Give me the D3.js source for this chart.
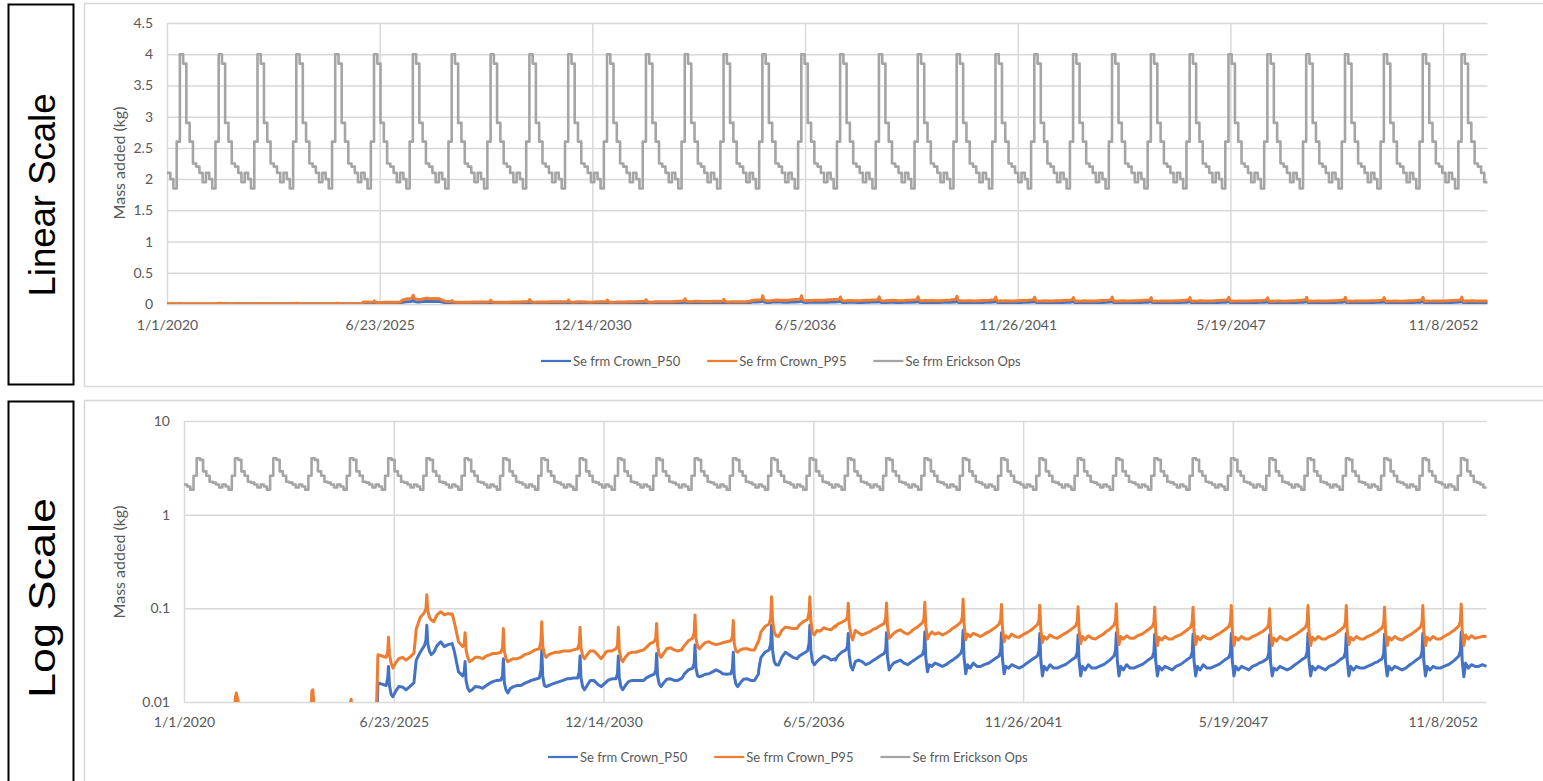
<!DOCTYPE html>
<html>
<head>
<meta charset="utf-8">
<script src="https://cdn.jsdelivr.net/npm/d3@7"></script>
<style>
  body { margin: 0; background: #fff; }
  svg { display: block; }
</style>
</head>
<body>
<svg id="chart" width="1543" height="781"></svg>
<script>
// ---- data ----
const seriesNames = ["Se frm Crown_P50", "Se frm Crown_P95", "Se frm Erickson Ops"];
const seriesColors = ["#4472C4", "#ED7D31", "#A5A5A5"];

const tickDates = ["2020-01-01", "2025-06-23", "2030-12-14", "2036-06-05", "2041-11-26", "2047-05-19", "2052-11-08"];
const linearTicks = [0, 0.5, 1, 1.5, 2, 2.5, 3, 3.5, 4, 4.5];
const logTicks = [0.01, 0.1, 1, 10];

const years = [2020, 2021, 2022, 2023, 2024, 2025, 2026, 2027, 2028, 2029, 2030, 2031,
  2032, 2033, 2034, 2035, 2036, 2037, 2038, 2039, 2040, 2041, 2042, 2043, 2044, 2045,
  2046, 2047, 2048, 2049, 2050, 2051, 2052, 2053];

// Erickson Ops: one value per month (Jan..Dec), each row one year
const opsMonthly = [
  [2.1, 2.0, 1.85, 2.6, 4.0, 3.85, 2.9, 2.6, 2.25, 2.2, 2.1, 1.95], // 2020
  [2.1, 2.0, 1.85, 2.6, 4.0, 3.85, 2.9, 2.6, 2.25, 2.2, 2.1, 1.95],
  [2.1, 2.0, 1.85, 2.6, 4.0, 3.85, 2.9, 2.6, 2.25, 2.2, 2.1, 1.95],
  [2.1, 2.0, 1.85, 2.6, 4.0, 3.85, 2.9, 2.6, 2.25, 2.2, 2.1, 1.95],
  [2.1, 2.0, 1.85, 2.6, 4.0, 3.85, 2.9, 2.6, 2.25, 2.2, 2.1, 1.95],
  [2.1, 2.0, 1.85, 2.6, 4.0, 3.85, 2.9, 2.6, 2.25, 2.2, 2.1, 1.95], // 2025
  [2.1, 2.0, 1.85, 2.6, 4.0, 3.85, 2.9, 2.6, 2.25, 2.2, 2.1, 1.95],
  [2.1, 2.0, 1.85, 2.6, 4.0, 3.85, 2.9, 2.6, 2.25, 2.2, 2.1, 1.95],
  [2.1, 2.0, 1.85, 2.6, 4.0, 3.85, 2.9, 2.6, 2.25, 2.2, 2.1, 1.95],
  [2.1, 2.0, 1.85, 2.6, 4.0, 3.85, 2.9, 2.6, 2.25, 2.2, 2.1, 1.95],
  [2.1, 2.0, 1.85, 2.6, 4.0, 3.85, 2.9, 2.6, 2.25, 2.2, 2.1, 1.95], // 2030
  [2.1, 2.0, 1.85, 2.6, 4.0, 3.85, 2.9, 2.6, 2.25, 2.2, 2.1, 1.95],
  [2.1, 2.0, 1.85, 2.6, 4.0, 3.85, 2.9, 2.6, 2.25, 2.2, 2.1, 1.95],
  [2.1, 2.0, 1.85, 2.6, 4.0, 3.85, 2.9, 2.6, 2.25, 2.2, 2.1, 1.95],
  [2.1, 2.0, 1.85, 2.6, 4.0, 3.85, 2.9, 2.6, 2.25, 2.2, 2.1, 1.95],
  [2.1, 2.0, 1.85, 2.6, 4.0, 3.85, 2.9, 2.6, 2.25, 2.2, 2.1, 1.95], // 2035
  [2.1, 2.0, 1.85, 2.6, 4.0, 3.85, 2.9, 2.6, 2.25, 2.2, 2.1, 1.95],
  [2.1, 2.0, 1.85, 2.6, 4.0, 3.85, 2.9, 2.6, 2.25, 2.2, 2.1, 1.95],
  [2.1, 2.0, 1.85, 2.6, 4.0, 3.85, 2.9, 2.6, 2.25, 2.2, 2.1, 1.95],
  [2.1, 2.0, 1.85, 2.6, 4.0, 3.85, 2.9, 2.6, 2.25, 2.2, 2.1, 1.95],
  [2.1, 2.0, 1.85, 2.6, 4.0, 3.85, 2.9, 2.6, 2.25, 2.2, 2.1, 1.95], // 2040
  [2.1, 2.0, 1.85, 2.6, 4.0, 3.85, 2.9, 2.6, 2.25, 2.2, 2.1, 1.95],
  [2.1, 2.0, 1.85, 2.6, 4.0, 3.85, 2.9, 2.6, 2.25, 2.2, 2.1, 1.95],
  [2.1, 2.0, 1.85, 2.6, 4.0, 3.85, 2.9, 2.6, 2.25, 2.2, 2.1, 1.95],
  [2.1, 2.0, 1.85, 2.6, 4.0, 3.85, 2.9, 2.6, 2.25, 2.2, 2.1, 1.95],
  [2.1, 2.0, 1.85, 2.6, 4.0, 3.85, 2.9, 2.6, 2.25, 2.2, 2.1, 1.95], // 2045
  [2.1, 2.0, 1.85, 2.6, 4.0, 3.85, 2.9, 2.6, 2.25, 2.2, 2.1, 1.95],
  [2.1, 2.0, 1.85, 2.6, 4.0, 3.85, 2.9, 2.6, 2.25, 2.2, 2.1, 1.95],
  [2.1, 2.0, 1.85, 2.6, 4.0, 3.85, 2.9, 2.6, 2.25, 2.2, 2.1, 1.95],
  [2.1, 2.0, 1.85, 2.6, 4.0, 3.85, 2.9, 2.6, 2.25, 2.2, 2.1, 1.95],
  [2.1, 2.0, 1.85, 2.6, 4.0, 3.85, 2.9, 2.6, 2.25, 2.2, 2.1, 1.95], // 2050
  [2.1, 2.0, 1.85, 2.6, 4.0, 3.85, 2.9, 2.6, 2.25, 2.2, 2.1, 1.95],
  [2.1, 2.0, 1.85, 2.6, 4.0, 3.85, 2.9, 2.6, 2.25, 2.2, 2.1, 1.95],
  [2.1, 2.0, 1.85, 2.6, 4.0, 3.85, 2.9, 2.6, 2.25, 2.2, 2.1, 1.95]  // 2053
];

// Crown series: values at these days of each year
const sampleDays = [0, 22, 60, 100, 115, 123, 132, 148, 165, 190, 220, 255, 290, 325, 364];

const p50Rows = [
  [0.0015, 0.0015, 0.002, 0.002, 0.0025, 0.003, 0.0025, 0.002, 0.002, 0.0015, 0.002, 0.002, 0.0015, 0.002, 0.002], // 2020
  [0.002, 0.002, 0.002, 0.0025, 0.0035, 0.0055, 0.006, 0.005, 0.003, 0.0025, 0.002, 0.002, 0.0025, 0.0025, 0.0025],
  [0.0025, 0.0025, 0.0025, 0.003, 0.0035, 0.004, 0.0035, 0.003, 0.0025, 0.002, 0.002, 0.0025, 0.0025, 0.0025, 0.0025],
  [0.0025, 0.0025, 0.0025, 0.003, 0.004, 0.0065, 0.0065, 0.004, 0.003, 0.0025, 0.0025, 0.0025, 0.0025, 0.0025, 0.0025],
  [0.0025, 0.0025, 0.0025, 0.003, 0.0035, 0.0045, 0.005, 0.0035, 0.0025, 0.0025, 0.0025, 0.0025, 0.0025, 0.0025, 0.002],
  [0.002, 0.016, 0.0155, 0.015, 0.018, 0.024, 0.015, 0.012, 0.0114, 0.013, 0.0146, 0.0145, 0.0135, 0.0146, 0.016], // 2025
  [0.016, 0.028, 0.034, 0.040, 0.046, 0.066, 0.042, 0.035, 0.032, 0.034, 0.040, 0.044, 0.039, 0.041, 0.042],
  [0.042, 0.034, 0.021, 0.019, 0.021, 0.027, 0.017, 0.014, 0.013, 0.0135, 0.0146, 0.0145, 0.014, 0.015, 0.016],
  [0.016, 0.0165, 0.017, 0.0172, 0.019, 0.029, 0.016, 0.0135, 0.0125, 0.014, 0.0146, 0.015, 0.015, 0.0158, 0.0165],
  [0.0165, 0.017, 0.0175, 0.018, 0.022, 0.036, 0.019, 0.015, 0.0146, 0.015, 0.0155, 0.016, 0.0165, 0.017, 0.0177],
  [0.0177, 0.0177, 0.018, 0.018, 0.021, 0.031, 0.018, 0.0145, 0.0135, 0.015, 0.017, 0.017, 0.0155, 0.0146, 0.016], // 2030
  [0.016, 0.017, 0.0177, 0.0177, 0.020, 0.031, 0.018, 0.0145, 0.0135, 0.015, 0.0165, 0.017, 0.017, 0.017, 0.017],
  [0.017, 0.018, 0.019, 0.0198, 0.022, 0.033, 0.019, 0.0155, 0.0146, 0.016, 0.0175, 0.0177, 0.017, 0.017, 0.018],
  [0.018, 0.020, 0.022, 0.023, 0.026, 0.0406, 0.023, 0.019, 0.0186, 0.019, 0.0198, 0.020, 0.021, 0.022, 0.021],
  [0.021, 0.020, 0.0198, 0.020, 0.023, 0.034, 0.019, 0.0155, 0.0146, 0.016, 0.0175, 0.0177, 0.017, 0.017, 0.020],
  [0.022, 0.030, 0.034, 0.036, 0.042, 0.066, 0.036, 0.027, 0.025, 0.0248, 0.030, 0.034, 0.032, 0.030, 0.029], // 2035
  [0.029, 0.031, 0.033, 0.035, 0.042, 0.066, 0.036, 0.027, 0.025, 0.027, 0.029, 0.031, 0.030, 0.028, 0.029],
  [0.028, 0.031, 0.034, 0.036, 0.039, 0.054, 0.032, 0.024, 0.022, 0.027, 0.028, 0.027, 0.025, 0.026, 0.028],
  [0.028, 0.029, 0.031, 0.033, 0.036, 0.055, 0.030, 0.022, 0.024, 0.026, 0.027, 0.028, 0.026, 0.025, 0.027],
  [0.027, 0.028, 0.030, 0.032, 0.036, 0.056, 0.030, 0.021, 0.025, 0.024, 0.026, 0.025, 0.024, 0.025, 0.027],
  [0.027, 0.028, 0.030, 0.033, 0.037, 0.058, 0.030, 0.020, 0.025, 0.023, 0.026, 0.024, 0.024, 0.025, 0.026], // 2040
  [0.026, 0.027, 0.029, 0.031, 0.035, 0.055, 0.029, 0.020, 0.024, 0.023, 0.025, 0.024, 0.023, 0.024, 0.026],
  [0.026, 0.027, 0.029, 0.031, 0.035, 0.054, 0.029, 0.019, 0.024, 0.022, 0.025, 0.023, 0.023, 0.024, 0.025],
  [0.025, 0.026, 0.028, 0.030, 0.034, 0.052, 0.028, 0.019, 0.024, 0.022, 0.025, 0.023, 0.023, 0.024, 0.025],
  [0.025, 0.026, 0.028, 0.031, 0.035, 0.055, 0.028, 0.019, 0.024, 0.022, 0.025, 0.023, 0.023, 0.024, 0.025],
  [0.025, 0.026, 0.028, 0.030, 0.034, 0.053, 0.028, 0.019, 0.024, 0.022, 0.024, 0.023, 0.022, 0.024, 0.025], // 2045
  [0.025, 0.026, 0.028, 0.030, 0.034, 0.053, 0.028, 0.019, 0.024, 0.022, 0.025, 0.023, 0.023, 0.024, 0.025],
  [0.025, 0.026, 0.028, 0.030, 0.034, 0.054, 0.028, 0.019, 0.024, 0.022, 0.024, 0.023, 0.022, 0.024, 0.025],
  [0.025, 0.026, 0.027, 0.029, 0.033, 0.052, 0.027, 0.019, 0.023, 0.022, 0.024, 0.023, 0.022, 0.023, 0.025],
  [0.025, 0.026, 0.028, 0.030, 0.034, 0.054, 0.028, 0.019, 0.024, 0.022, 0.024, 0.023, 0.022, 0.024, 0.025],
  [0.025, 0.026, 0.028, 0.030, 0.034, 0.054, 0.028, 0.019, 0.024, 0.022, 0.024, 0.023, 0.023, 0.024, 0.025], // 2050
  [0.025, 0.026, 0.027, 0.029, 0.033, 0.053, 0.027, 0.019, 0.024, 0.022, 0.024, 0.023, 0.022, 0.023, 0.025],
  [0.025, 0.026, 0.028, 0.030, 0.034, 0.054, 0.028, 0.019, 0.024, 0.022, 0.024, 0.023, 0.023, 0.024, 0.025],
  [0.025, 0.026, 0.028, 0.031, 0.035, 0.056, 0.028, 0.0186, 0.026, 0.023, 0.025, 0.024, 0.024, 0.025, 0.024]  // 2053
];

const p95Rows = [
  [0.003, 0.003, 0.004, 0.004, 0.005, 0.006, 0.005, 0.004, 0.004, 0.003, 0.004, 0.004, 0.003, 0.004, 0.004], // 2020
  [0.004, 0.004, 0.004, 0.005, 0.007, 0.011, 0.0125, 0.0105, 0.006, 0.005, 0.004, 0.004, 0.005, 0.005, 0.005],
  [0.005, 0.005, 0.005, 0.006, 0.007, 0.008, 0.007, 0.006, 0.005, 0.004, 0.004, 0.005, 0.005, 0.005, 0.005],
  [0.005, 0.005, 0.005, 0.006, 0.008, 0.013, 0.0135, 0.008, 0.006, 0.005, 0.005, 0.005, 0.005, 0.005, 0.005],
  [0.005, 0.005, 0.005, 0.006, 0.007, 0.0095, 0.0107, 0.007, 0.005, 0.005, 0.005, 0.005, 0.005, 0.005, 0.004],
  [0.004, 0.032, 0.031, 0.030, 0.034, 0.049, 0.032, 0.026, 0.023, 0.026, 0.029, 0.030, 0.028, 0.030, 0.033], // 2025
  [0.033, 0.060, 0.080, 0.090, 0.100, 0.140, 0.095, 0.080, 0.075, 0.072, 0.085, 0.092, 0.085, 0.088, 0.086],
  [0.087, 0.070, 0.044, 0.039, 0.042, 0.055, 0.036, 0.030, 0.027, 0.028, 0.030, 0.030, 0.029, 0.031, 0.032],
  [0.032, 0.033, 0.033, 0.034, 0.038, 0.061, 0.035, 0.029, 0.027, 0.028, 0.029, 0.029, 0.030, 0.032, 0.033],
  [0.033, 0.034, 0.036, 0.037, 0.045, 0.072, 0.040, 0.032, 0.030, 0.032, 0.033, 0.034, 0.034, 0.035, 0.035],
  [0.035, 0.035, 0.036, 0.037, 0.042, 0.063, 0.038, 0.031, 0.029, 0.032, 0.035, 0.035, 0.032, 0.029, 0.033], // 2030
  [0.034, 0.035, 0.035, 0.037, 0.040, 0.063, 0.036, 0.029, 0.027, 0.030, 0.033, 0.034, 0.034, 0.035, 0.036],
  [0.036, 0.038, 0.042, 0.044, 0.048, 0.069, 0.040, 0.032, 0.030, 0.033, 0.037, 0.038, 0.036, 0.035, 0.036],
  [0.037, 0.040, 0.045, 0.048, 0.055, 0.085, 0.048, 0.039, 0.037, 0.040, 0.043, 0.044, 0.042, 0.041, 0.042],
  [0.042, 0.043, 0.044, 0.045, 0.050, 0.074, 0.042, 0.035, 0.034, 0.036, 0.037, 0.037, 0.036, 0.036, 0.045],
  [0.045, 0.056, 0.064, 0.068, 0.080, 0.133, 0.075, 0.056, 0.051, 0.050, 0.058, 0.063, 0.062, 0.061, 0.061], // 2035
  [0.061, 0.066, 0.072, 0.076, 0.090, 0.133, 0.075, 0.054, 0.052, 0.058, 0.057, 0.062, 0.060, 0.059, 0.065],
  [0.063, 0.068, 0.071, 0.075, 0.080, 0.113, 0.068, 0.052, 0.046, 0.058, 0.055, 0.052, 0.054, 0.056, 0.060],
  [0.060, 0.061, 0.065, 0.069, 0.078, 0.114, 0.065, 0.048, 0.050, 0.054, 0.057, 0.059, 0.055, 0.053, 0.057],
  [0.058, 0.060, 0.064, 0.070, 0.078, 0.116, 0.066, 0.047, 0.052, 0.056, 0.053, 0.055, 0.052, 0.054, 0.058],
  [0.058, 0.061, 0.065, 0.071, 0.080, 0.125, 0.068, 0.046, 0.053, 0.050, 0.054, 0.052, 0.050, 0.053, 0.056], // 2040
  [0.056, 0.058, 0.062, 0.068, 0.076, 0.110, 0.062, 0.044, 0.051, 0.048, 0.053, 0.050, 0.049, 0.052, 0.055],
  [0.055, 0.057, 0.061, 0.067, 0.074, 0.108, 0.061, 0.043, 0.050, 0.047, 0.052, 0.049, 0.048, 0.051, 0.054],
  [0.054, 0.056, 0.060, 0.065, 0.072, 0.104, 0.060, 0.042, 0.050, 0.046, 0.051, 0.048, 0.047, 0.050, 0.053],
  [0.053, 0.056, 0.060, 0.066, 0.074, 0.111, 0.060, 0.041, 0.050, 0.047, 0.051, 0.048, 0.048, 0.051, 0.053],
  [0.053, 0.055, 0.059, 0.064, 0.071, 0.103, 0.058, 0.040, 0.049, 0.046, 0.050, 0.047, 0.047, 0.050, 0.052], // 2045
  [0.052, 0.054, 0.058, 0.063, 0.071, 0.103, 0.058, 0.041, 0.050, 0.046, 0.051, 0.048, 0.047, 0.050, 0.053],
  [0.053, 0.055, 0.059, 0.064, 0.072, 0.107, 0.059, 0.040, 0.049, 0.046, 0.050, 0.047, 0.047, 0.050, 0.052],
  [0.052, 0.054, 0.057, 0.062, 0.069, 0.099, 0.057, 0.040, 0.048, 0.045, 0.050, 0.047, 0.046, 0.049, 0.052],
  [0.052, 0.054, 0.058, 0.063, 0.071, 0.107, 0.058, 0.040, 0.049, 0.046, 0.050, 0.047, 0.047, 0.050, 0.052],
  [0.052, 0.054, 0.058, 0.063, 0.071, 0.107, 0.058, 0.041, 0.049, 0.046, 0.050, 0.047, 0.047, 0.050, 0.052], // 2050
  [0.052, 0.054, 0.057, 0.062, 0.070, 0.103, 0.057, 0.040, 0.049, 0.046, 0.050, 0.047, 0.046, 0.049, 0.052],
  [0.052, 0.054, 0.058, 0.063, 0.071, 0.107, 0.058, 0.040, 0.049, 0.046, 0.050, 0.047, 0.047, 0.050, 0.053],
  [0.053, 0.055, 0.059, 0.065, 0.073, 0.111, 0.059, 0.040, 0.052, 0.047, 0.051, 0.048, 0.049, 0.050, 0.050]  // 2053
];

// ---- build point lists ----
const parseDay = d3.utcParse("%Y-%m-%d");
const xStart = parseDay("2020-01-01");
const xEnd = parseDay("2053-12-31");

function sampled(rows) {
  let pts = [];
  rows.forEach((row, i) => {
    let jan1 = new Date(Date.UTC(years[i], 0, 1));
    row.forEach((v, j) => pts.push({ date: d3.utcDay.offset(jan1, sampleDays[j]), value: v }));
  });
  return pts;
}

let opsPts = [];
opsMonthly.forEach((row, i) => {
  row.forEach((v, m) => opsPts.push({ date: new Date(Date.UTC(years[i], m, 1)), value: v }));
});
opsPts.push({ date: xEnd, value: opsPts[opsPts.length - 1].value });

const series = [
  { name: seriesNames[0], color: seriesColors[0], pts: sampled(p50Rows), curve: d3.curveLinear, width: 3 },
  { name: seriesNames[1], color: seriesColors[1], pts: sampled(p95Rows), curve: d3.curveLinear, width: 3 },
  { name: seriesNames[2], color: seriesColors[2], pts: opsPts, curve: d3.curveStepAfter, width: 2.6 }
];

const svg = d3.select("#chart");
const textFont = "Lato, 'Open Sans', sans-serif";
const textColor = "#595959";
const gridColor = "#d9d9d9";

// outer frames + side label boxes
svg.append("rect").attr("x", 84.5).attr("y", 3.5).attr("width", 1480).attr("height", 383)
  .attr("fill", "none").attr("stroke", gridColor).attr("stroke-width", 1.5);
svg.append("rect").attr("x", 84.5).attr("y", 400.5).attr("width", 1480).attr("height", 400)
  .attr("fill", "none").attr("stroke", gridColor).attr("stroke-width", 1.5);

const boxes = [
  { label: "Linear Scale", y: 4.5, h: 380, cy: 195, len: 203 },
  { label: "Log Scale", y: 401.5, h: 400, cy: 598, len: 200 }
];
boxes.forEach(b => {
  svg.append("rect").attr("x", 8.5).attr("y", b.y).attr("width", 65).attr("height", b.h)
    .attr("fill", "none").attr("stroke", "#000").attr("stroke-width", 2);
  svg.append("text")
    .attr("transform", `translate(42,${b.cy}) rotate(-90)`)
    .attr("text-anchor", "middle").attr("dy", "0.35em")
    .attr("textLength", b.len).attr("lengthAdjust", "spacingAndGlyphs")
    .style("font-family", "'Liberation Sans', Arial, sans-serif").style("font-size", "37px")
    .attr("fill", "#000").text(b.label);
});

// ---- panels ----
const panels = [
  { id: "lin", x0: 167, x1: 1487.5, yTop: 23, yBottom: 304, log: false, ticks: linearTicks,
    xPad: 16, titleY: 163, legendX: 541, legendY: 361 },
  { id: "log", x0: 184, x1: 1486.5, yTop: 421, yBottom: 702, log: true, ticks: logTicks,
    xPad: 15, titleY: 562, legendX: 548, legendY: 757 }
];

panels.forEach(p => {
  let x = d3.scaleUtc().domain([xStart, xEnd]).range([p.x0, p.x1]);
  let y = p.log
    ? d3.scaleLog().domain([0.01, 10]).range([p.yBottom, p.yTop])
    : d3.scaleLinear().domain([0, 4.5]).range([p.yBottom, p.yTop]);

  let g = svg.append("g");

  // y axis with gridlines
  let yAxis = g.append("g").attr("transform", `translate(${p.x0},0)`)
    .call(d3.axisLeft(y).tickValues(p.ticks).tickSize(-(p.x1 - p.x0)).tickPadding(14)
      .tickFormat(d => String(d)));
  // x axis with gridlines
  let xAxis = g.append("g").attr("transform", `translate(0,${p.yBottom})`)
    .call(d3.axisBottom(x).tickValues(tickDates.map(parseDay)).tickSize(-(p.yBottom - p.yTop))
      .tickPadding(p.xPad).tickFormat(d3.utcFormat("%-m/%-d/%Y")));

  [yAxis, xAxis].forEach(a => {
    a.select(".domain").remove();
    a.selectAll(".tick line").attr("stroke", gridColor).attr("stroke-width", 1.5);
    a.selectAll(".tick text").attr("fill", textColor)
      .style("font-family", textFont).style("font-size", "14px");
  });

  // axis title
  g.append("text")
    .attr("transform", `translate(119,${p.titleY}) rotate(-90)`)
    .attr("text-anchor", "middle").attr("dy", "0.35em")
    .attr("fill", textColor).style("font-family", textFont).style("font-size", "16px")
    .text("Mass added (kg)");

  // clip to plot area
  svg.append("clipPath").attr("id", "clip-" + p.id)
    .append("rect").attr("x", p.x0).attr("y", p.yTop - 10)
    .attr("width", p.x1 - p.x0 + 2).attr("height", p.yBottom - p.yTop + 10);

  let plot = g.append("g").attr("clip-path", `url(#clip-${p.id})`);
  series.forEach(s => {
    let line = d3.line().curve(s.curve)
      .x(d => x(d.date))
      .y(d => y(p.log ? Math.max(d.value, 0.0001) : d.value));
    plot.append("path").datum(s.pts)
      .attr("d", line)
      .attr("fill", "none")
      .attr("stroke", s.color)
      .attr("stroke-width", s.width)
      .attr("stroke-linejoin", "round");
  });

  // legend
  let lx = p.legendX;
  series.forEach(s => {
    g.append("line").attr("x1", lx).attr("x2", lx + 30)
      .attr("y1", p.legendY).attr("y2", p.legendY)
      .attr("stroke", s.color).attr("stroke-width", 2.25);
    let t = g.append("text").attr("x", lx + 32).attr("y", p.legendY).attr("dy", "0.35em")
      .attr("fill", textColor).style("font-family", textFont).style("font-size", "13px")
      .text(s.name);
    lx = lx + 32 + t.node().getComputedTextLength() + 27;
  });
});
</script>
</body>
</html>
